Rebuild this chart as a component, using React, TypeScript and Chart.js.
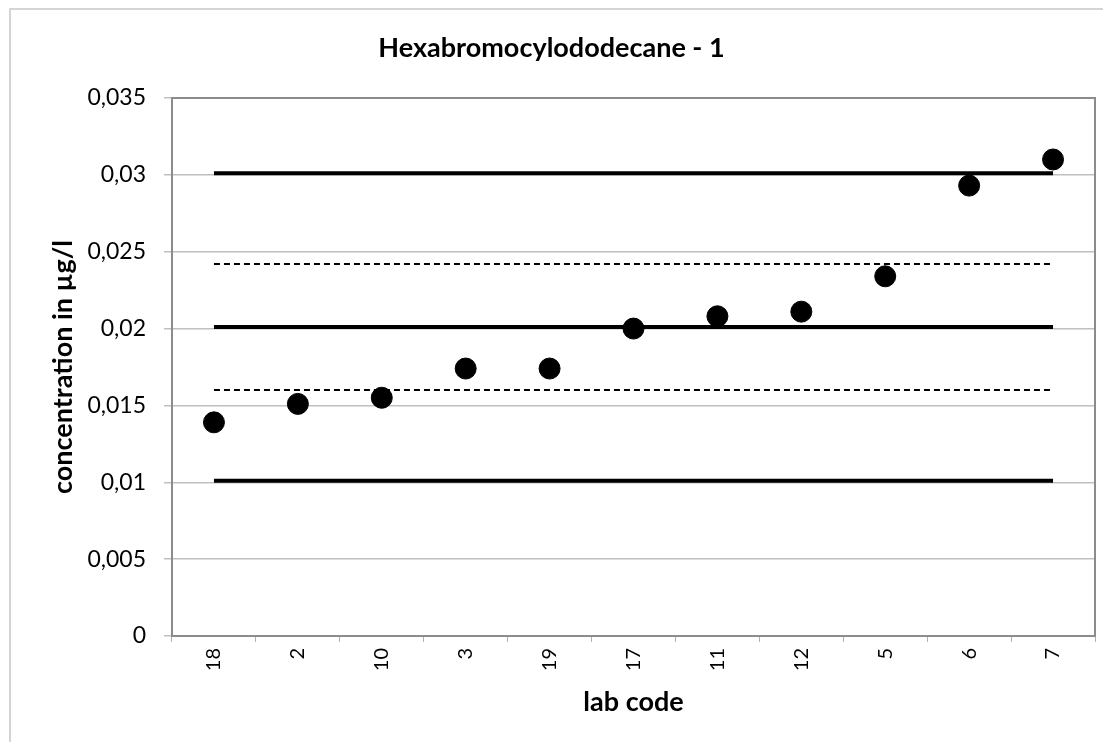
import React, { useEffect, useRef } from "react";
import { Chart, registerables } from "chart.js";

Chart.register(...registerables);

const chartTitle = "Hexabromocylododecane - 1";
const xAxisTitle = "lab code";
const yAxisTitle = "concentration in µg/l";

const labCodes = ["18", "2", "10", "3", "19", "17", "11", "12", "5", "6", "7"];
const concentrations = [0.0139, 0.0151, 0.0155, 0.0174, 0.0174, 0.0200, 0.0208, 0.0211, 0.0234, 0.0293, 0.0310];

const upperLimit = 0.0301;
const assignedValue = 0.0201;
const lowerLimit = 0.0101;
const upperDashed = 0.0242;
const lowerDashed = 0.0160;

const yTickLabels = ["0", "0,005", "0,01", "0,015", "0,02", "0,025", "0,03", "0,035"];

const FONT = "Lato, 'Open Sans', sans-serif";

export default function App() {
  const canvasRef = useRef<HTMLCanvasElement | null>(null);

  useEffect(() => {
    const canvas = canvasRef.current;
    if (!canvas) return;

    const plotBorder = {
      id: "plotBorder",
      afterDatasetsDraw(chart: any) {
        const { ctx, chartArea } = chart;
        ctx.save();
        ctx.strokeStyle = "#8c8c8c";
        ctx.lineWidth = 2;
        ctx.beginPath();
        ctx.moveTo(chartArea.left, chartArea.top);
        ctx.lineTo(chartArea.right, chartArea.top);
        ctx.lineTo(chartArea.right, chartArea.bottom);
        ctx.stroke();
        ctx.restore();
      },
    };

    const refLine = (value: number, width: number, dash: number[]) => ({
      type: "line" as const,
      data: labCodes.map(() => value),
      borderColor: "#000000",
      borderWidth: width,
      borderDash: dash,
      pointRadius: 0,
      pointHoverRadius: 0,
      fill: false,
      order: 2,
    });

    const chart = new Chart(canvas, {
      type: "line",
      data: {
        labels: labCodes,
        datasets: [
          {
            data: concentrations,
            showLine: false,
            pointRadius: 10.5,
            pointBackgroundColor: "#000000",
            pointBorderColor: "#000000",
            pointBorderWidth: 1,
            order: 0,
          },
          refLine(upperLimit, 4, []),
          refLine(assignedValue, 4, []),
          refLine(lowerLimit, 4, []),
          refLine(upperDashed, 2, [6, 4]),
          refLine(lowerDashed, 2, [6, 4]),
        ],
      },
      options: {
        animation: false,
        responsive: false,
        layout: { padding: { left: 0, right: 16, top: 0, bottom: 0 } },
        plugins: {
          legend: { display: false },
          tooltip: { enabled: false },
          title: {
            display: true,
            text: chartTitle,
            color: "#000000",
            font: { family: FONT, size: 27, weight: "bold" },
            padding: { top: 24, bottom: 33.6 },
          },
        },
        scales: {
          x: {
            type: "category",
            offset: true,
            grid: {
              offset: true,
              drawOnChartArea: false,
              drawTicks: true,
              tickLength: 6,
              color: "#b0b0b0",
            },
            border: { display: true, color: "#8c8c8c", width: 2 },
            ticks: {
              minRotation: 90,
              maxRotation: 90,
              padding: 6,
              color: "#000000",
              font: { family: FONT, size: 20 },
            },
            title: {
              display: true,
              text: xAxisTitle,
              color: "#000000",
              font: { family: FONT, size: 27, weight: "bold" },
              padding: { top: 0, bottom: 24 },
            },
            afterFit: (scale: any) => {
              scale.height = 106;
            },
          },
          y: {
            min: 0,
            max: 0.035,
            ticks: {
              stepSize: 0.005,
              padding: 18,
              color: "#000000",
              font: { family: FONT, size: 23 },
              callback: (_v: any, i: number) => yTickLabels[i],
            },
            grid: {
              color: "#c0c0c0",
              lineWidth: 1.5,
              tickLength: 8,
              drawTicks: true,
            },
            border: { display: true, color: "#8c8c8c", width: 2 },
            title: {
              display: true,
              text: yAxisTitle,
              color: "#000000",
              font: { family: FONT, size: 27, weight: "bold" },
              padding: { top: 39, bottom: 0 },
            },
            afterFit: (scale: any) => {
              scale.width = 164;
            },
          },
        },
      },
      plugins: [plotBorder],
    });

    return () => chart.destroy();
  }, []);

  return (
    <div style={{ position: "relative", width: 1103, height: 734, overflow: "hidden", background: "#ffffff" }}>
      <div
        style={{
          position: "absolute",
          left: 1,
          top: 0,
          width: 1200,
          height: 800,
          borderLeft: "2px solid #d4d4d4",
          borderTop: "2px solid #d4d4d4",
        }}
      />
      <canvas ref={canvasRef} width={1103} height={734} style={{ position: "relative", display: "block" }} />
    </div>
  );
}
